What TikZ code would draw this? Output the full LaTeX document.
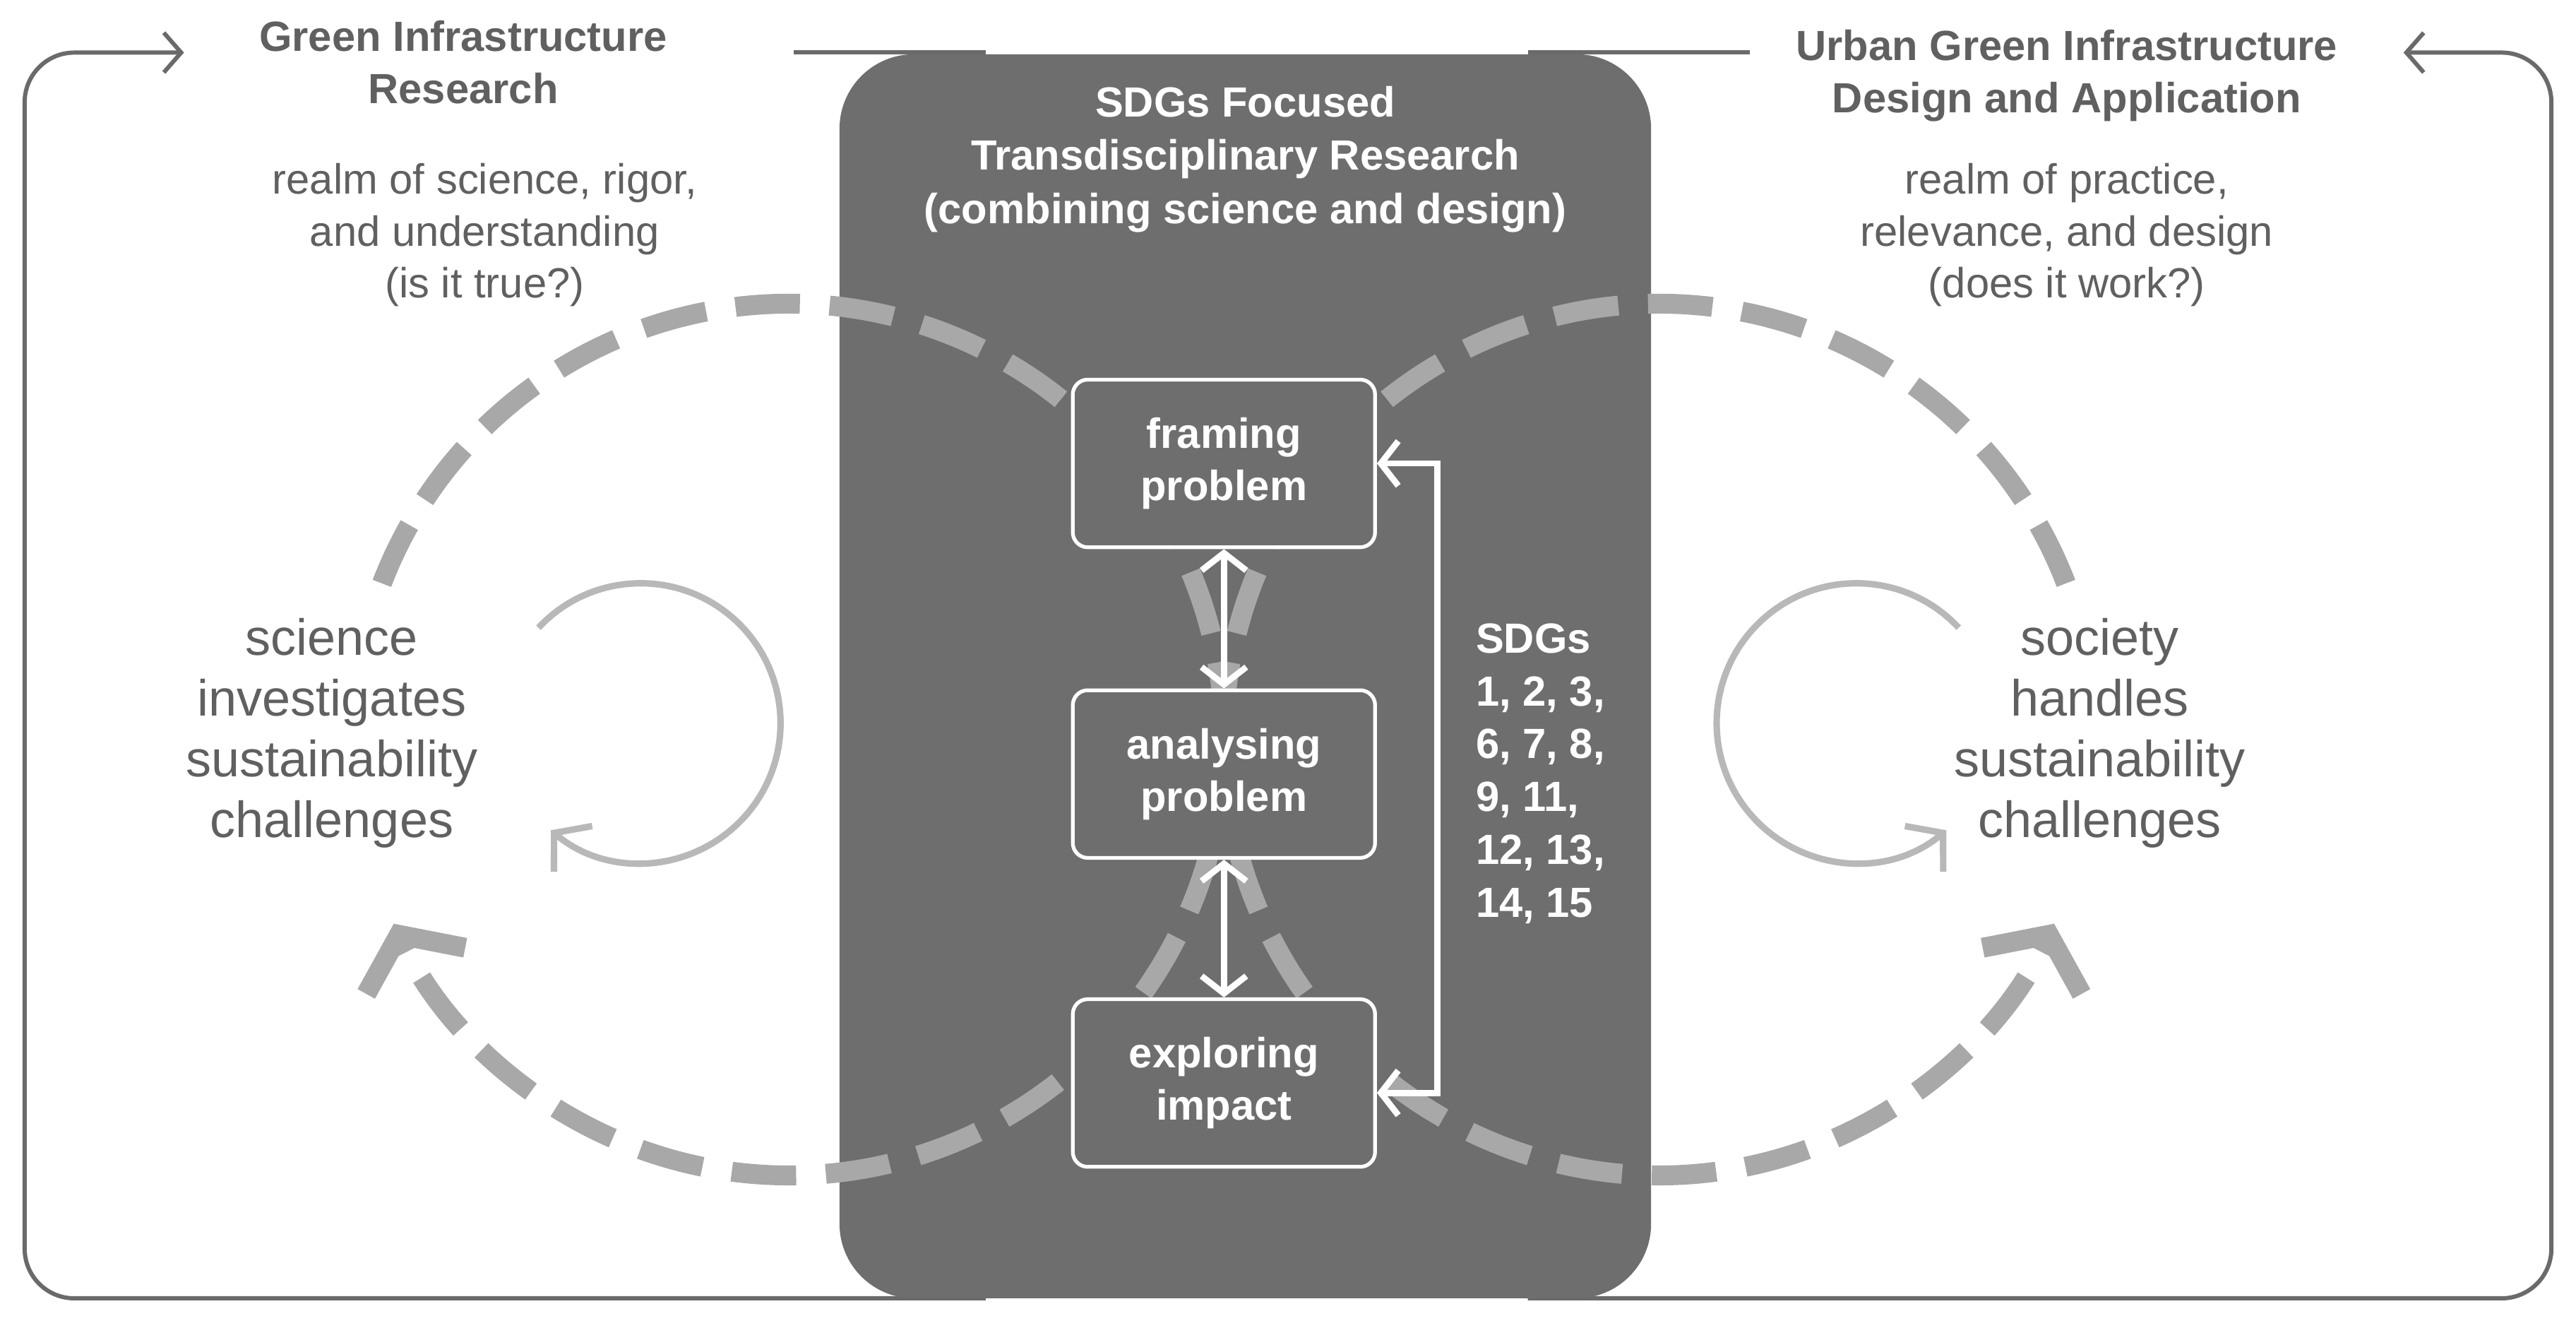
\documentclass[tikz,border=0pt]{standalone}
\usepackage{fontspec}
\setmainfont{Liberation Sans}
\usetikzlibrary{arrows.meta}
\definecolor{frame}{HTML}{6A6A6A}
\definecolor{darkbox}{HTML}{6E6E6E}
\definecolor{dash}{HTML}{A8A8A8}
\definecolor{thin}{HTML}{B8B8B8}
\definecolor{txt}{HTML}{606060}
\begin{document}
\begin{tikzpicture}[x=0.02327cm,y=0.02327cm,
  frameline/.style={draw=frame,line width=1.7pt,rounded corners=20pt},
  bigarc/.style={draw=dash,line width=8pt,dash pattern=on 26pt off 12pt,-{Straight Barb[length=16pt,width=44pt]}},
  smallarc/.style={draw=thin,line width=2.6pt,-{Straight Barb[length=10pt,width=24pt]}},
  stepbox/.style={draw=white,line width=1.5pt,rounded corners=6pt,fill=darkbox,text=white,font=\fontsize{17}{21}\selectfont\bfseries,align=center},
  wht/.style={draw=white,line width=2.5pt,{Straight Barb[length=7pt,width=18pt]}-{Straight Barb[length=7pt,width=18pt]}},
  title/.style={text=txt,font=\fontsize{17}{21}\selectfont\bfseries,align=center},
  sub/.style={text=txt,font=\fontsize{17}{21}\selectfont,align=center},
  big/.style={text=txt,font=\fontsize{20.5}{24.5}\selectfont,align=center}]
\useasboundingbox (0,0) rectangle (1568,-808);
% frames
\draw[frameline,-{Straight Barb[length=7pt,width=16pt]}] (600,-790) -- (15,-790) -- (15,-32) -- (112,-32);
\draw[frameline] (483,-32) -- (600,-32);
\draw[frameline,-{Straight Barb[length=7pt,width=16pt]}] (930,-790) -- (1553,-790) -- (1553,-32) -- (1463,-32);
\draw[frameline] (930,-32) -- (1065,-32);
% dark box
\node[fill=darkbox,rounded corners=30pt,minimum width=494*0.02327cm,minimum height=757*0.02327cm,inner sep=0pt] (dbox) at (758,-411.5) {};
% titles
\node[title] (lt) at (282,-38) {Green Infrastructure\\Research};
\node[title] (rt) at (1258,-46) {Urban Green Infrastructure\\Design and Application};
\node[font=\fontsize{17}{21.5}\selectfont\bfseries,text=white,align=center] (ct) at (758,-97) {SDGs Focused\\Transdisciplinary Research\\(combining science and design)};
\node[sub] (ls) at (295,-143) {realm of science, rigor,\\and understanding\\(is it true?)};
\node[sub] (rs) at (1258,-143) {realm of practice,\\relevance, and design\\(does it work?)};
% big arcs
\coordinate (lc) at (480,-450);
\coordinate (rc) at (1010,-450);
\draw[bigarc] ([shift={(159:6.17cm)}]lc) arc[start angle=159,end angle=-155,radius=6.17cm];
\draw[bigarc] ([shift={(21:6.17cm)}]rc) arc[start angle=21,end angle=335,radius=6.17cm];
% small arcs
\coordinate (lsc) at (390,-440);
\coordinate (rsc) at (1130,-440);
\draw[smallarc] ([shift={(137:1.98cm)}]lsc) arc[start angle=137,end angle=-130,radius=1.98cm];
\draw[smallarc] ([shift={(43:1.98cm)}]rsc) arc[start angle=43,end angle=310,radius=1.98cm];
% big texts
\node[big] (lb) at (202,-446) {science\\investigates\\sustainability\\challenges};
\node[big] (rb) at (1278,-446) {society\\handles\\sustainability\\challenges};
% boxes
\node[stepbox,minimum width=184*0.02327cm,minimum height=102*0.02327cm] (f) at (745,-282) {framing\\problem};
\node[stepbox,minimum width=184*0.02327cm,minimum height=102*0.02327cm] (a) at (745,-471) {analysing\\problem};
\node[stepbox,minimum width=184*0.02327cm,minimum height=102*0.02327cm] (e) at (745,-659) {exploring\\impact};
\draw[wht] (f.south) -- (a.north);
\draw[wht] (a.south) -- (e.north);
\coordinate (b1) at (875,-282);
\coordinate (b2) at (875,-665);
\draw[wht] (f.east) -- (b1) -- (b2) -- (e.east |- b2);
\node[font=\fontsize{17}{21.3}\selectfont\bfseries,text=white,align=left,anchor=north west] (sdg) at (893,-374) {SDGs\\1, 2, 3,\\6, 7, 8,\\9, 11,\\12, 13,\\14, 15};
\end{tikzpicture}
\end{document}
